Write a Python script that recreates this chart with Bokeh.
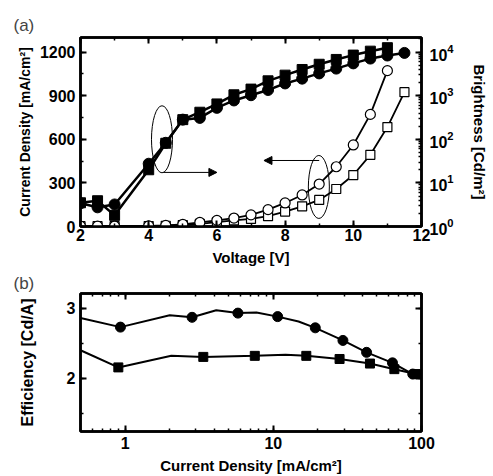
from bokeh.plotting import figure
from bokeh.models import (Range1d, LogScale, LinearAxis, LogAxis, SingleIntervalTicker,
                          Arrow, NormalHead, BasicTickFormatter, LogTicker, CustomJSTickFormatter)
from bokeh.layouts import column
from bokeh.embed import file_html
from bokeh.resources import INLINE

# ---------------- data: panel (a) ----------------
# Brightness (filled markers, right log axis) [Cd/m^2]
v_bsq = [2, 2.5, 3, 4, 4.5, 5, 5.5, 6, 6.5, 7, 7.5, 8, 8.5, 9, 9.5, 10, 10.5, 11]
b_sq = [3.5, 3.9, 1.8, 20, 81, 282, 417, 646, 1047, 1413, 2188, 2951, 3981, 5248, 6761, 8511, 10471, 12589]
v_bci = [2, 2.5, 3, 4, 4.5, 5, 5.5, 6, 6.5, 7, 7.5, 8, 8.5, 9, 9.5, 10, 10.5, 11, 11.5]
b_ci = [3.4, 2.75, 3.2, 27.5, 83, 282, 309, 525, 776, 1023, 1349, 1905, 2455, 3236, 4169, 5495, 7079, 8318, 9550]

# Current density (open markers, left axis) [mA/cm^2]
v_jsq = [2, 2.5, 3, 4, 4.5, 5, 5.5, 6, 6.5, 7, 7.5, 8, 8.5, 9, 9.5, 10, 10.5, 11, 11.5]
j_sq = [2, 2, 2, 3, 5, 10, 18, 30, 42, 52, 71, 103, 139, 183, 258, 354, 493, 684, 924]
v_jci = [2, 2.5, 3, 4, 4.5, 5, 5.5, 6, 6.5, 7, 7.5, 8, 8.5, 9, 9.5, 10, 10.5, 11]
j_ci = [2, 2, 2, 4, 8, 15, 28, 42, 58, 80, 116, 162, 217, 292, 411, 561, 771, 1072]

# annotations (ellipses + arrows) in data coords of left axis
ell_v = [4.39, 8.99]
ell_j = [600, 272]
arr1 = (4.43, 372, 6.0, 372)
arr2 = (9.0, 454, 7.38, 454)

# ---------------- data: panel (b) ----------------
cd_ci = [0.93, 2.83, 5.77, 10.7, 19.2, 29.5, 42.6, 63.7, 87.3]
ef_ci = [2.73, 2.87, 2.93, 2.88, 2.72, 2.54, 2.37, 2.22, 2.06]
cd_ci_curve = [0.5, 0.93, 2.0, 2.83, 4.12, 5.77, 7.7, 10.7, 14.8, 19.2, 29.5, 42.6, 63.7, 87.3, 100]
ef_ci_curve = [2.86, 2.73, 2.90, 2.87, 2.97, 2.93, 2.94, 2.88, 2.81, 2.72, 2.54, 2.37, 2.22, 2.06, 2.06]
cd_sq = [0.90, 3.37, 7.5, 16.7, 28.0, 44.9, 65.6, 91.6]
ef_sq = [2.155, 2.305, 2.32, 2.32, 2.275, 2.21, 2.13, 2.06]
cd_sq_curve = [0.5, 0.90, 2.05, 3.37, 7.5, 12.1, 16.7, 28.0, 44.9, 65.6, 91.6, 100]
ef_sq_curve = [2.40, 2.155, 2.32, 2.305, 2.32, 2.335, 2.32, 2.275, 2.21, 2.13, 2.06, 2.06]

FONT = "Liberation Sans"
J_MAX = 1300


def style_axis(ax, labels=True):
    ax.axis_line_width = 2.5
    ax.axis_line_color = "black"
    ax.major_tick_in = 6
    ax.major_tick_out = 0
    ax.minor_tick_in = 3
    ax.minor_tick_out = 0
    ax.major_tick_line_width = 2
    ax.minor_tick_line_width = 1.5
    ax.major_label_text_font = FONT
    ax.major_label_text_font_style = "bold"
    ax.major_label_text_font_size = "16px"
    ax.major_label_text_color = "black"
    ax.axis_label_text_font = FONT
    ax.axis_label_text_font_style = "bold"
    ax.axis_label_text_font_size = "15px"
    ax.axis_label_text_color = "black"
    if not labels:
        ax.formatter = CustomJSTickFormatter(code="return ''")
        ax.major_label_text_font_size = "1px"
        ax.major_label_standoff = 0


def style_title(p, standoff):
    p.title.text_font = FONT
    p.title.text_font_style = "normal"
    p.title.text_font_size = "17px"
    p.title.align = "left"
    p.title.offset = -67
    p.title.standoff = standoff


# ---------------- panel (a) ----------------
pa = figure(width=490, height=268, output_backend="svg", toolbar_location=None,
            x_range=Range1d(2, 12), y_range=Range1d(0, J_MAX),
            min_border_left=80, min_border_right=57, min_border_top=37, min_border_bottom=40,
            title="(a)")
pa.extra_y_ranges = {"bright": Range1d(1, 10 ** (J_MAX / 300))}
pa.extra_y_scales = {"bright": LogScale()}
pa.grid.visible = False
pa.outline_line_color = "black"
pa.outline_line_width = 2.5
style_title(pa, 6)

pa.xaxis.ticker = SingleIntervalTicker(interval=2, num_minor_ticks=2)
pa.yaxis.ticker = SingleIntervalTicker(interval=300, num_minor_ticks=2)
pa.xaxis.axis_label = "Voltage [V]"
pa.yaxis.axis_label = "Current Density [mA/cm\u00b2]"
for ax in pa.xaxis + pa.yaxis:
    style_axis(ax)
pa.yaxis.axis_label_text_font_size = "14px"
pa.xaxis.axis_label_standoff = 5
pa.yaxis.axis_label_standoff = 4
pa.xaxis.major_label_standoff = 2

top_a = LinearAxis(ticker=SingleIntervalTicker(interval=2, num_minor_ticks=2))
style_axis(top_a, labels=False)
pa.add_layout(top_a, "above")

right_a = LogAxis(y_range_name="bright", axis_label="Brightness [Cd/m\u00b2]",
                  ticker=LogTicker(num_minor_ticks=10))
style_axis(right_a)
right_a.major_label_standoff = 8
right_a.axis_label_standoff = 14
pa.add_layout(right_a, "right")

# filled: brightness
pa.line(v_bsq, b_sq, y_range_name="bright", line_color="black", line_width=2.5)
pa.scatter(v_bsq, b_sq, y_range_name="bright", marker="square", size=10,
           fill_color="black", line_color="black")
pa.line(v_bci, b_ci, y_range_name="bright", line_color="black", line_width=2.5)
pa.scatter(v_bci, b_ci, y_range_name="bright", marker="circle", size=11,
           fill_color="black", line_color="black")

# open: current density
pa.line(v_jsq, j_sq, line_color="black", line_width=1.8)
pa.scatter(v_jsq, j_sq, marker="square", size=9, fill_color="white",
           line_color="black", line_width=1.2)
pa.line(v_jci, j_ci, line_color="black", line_width=1.8)
pa.scatter(v_jci, j_ci, marker="circle", size=10, fill_color="white",
           line_color="black", line_width=1.2)

pa.ellipse(x=ell_v, y=ell_j, width=21, height=[67, 63], width_units="screen",
           height_units="screen", fill_color=None, line_color="black", line_width=1)
for (x0, y0, x1, y1) in (arr1, arr2):
    pa.add_layout(Arrow(x_start=x0, y_start=y0, x_end=x1, y_end=y1,
                        line_color="black", line_width=1,
                        end=NormalHead(size=8, fill_color="black", line_color="black")))

# ---------------- panel (b) ----------------
pb = figure(width=490, height=208, output_backend="svg", toolbar_location=None,
            x_axis_type="log", x_range=Range1d(0.5, 100), y_range=Range1d(1.24, 3.21),
            min_border_left=80, min_border_right=56, min_border_top=25, min_border_bottom=43,
            title="(b)")
pb.grid.visible = False
pb.outline_line_color = "black"
pb.outline_line_width = 2.5
style_title(pb, 2)

pb.xaxis.ticker = LogTicker(num_minor_ticks=10)
pb.yaxis.ticker = SingleIntervalTicker(interval=1, num_minor_ticks=2)
pb.xaxis.axis_label = "Current Density [mA/cm\u00b2]"
pb.yaxis.axis_label = "Efficiency [Cd/A]"
for ax in pb.xaxis + pb.yaxis:
    style_axis(ax)
pb.yaxis.axis_label_text_font_size = "16px"
pb.xaxis.formatter = BasicTickFormatter()
pb.xaxis.axis_label_standoff = 5
pb.yaxis.axis_label_standoff = 28
pb.xaxis.major_label_standoff = 5

top_b = LogAxis(ticker=LogTicker(num_minor_ticks=10))
style_axis(top_b, labels=False)
pb.add_layout(top_b, "above")
right_b = LinearAxis(ticker=SingleIntervalTicker(interval=1, num_minor_ticks=2))
style_axis(right_b, labels=False)
pb.add_layout(right_b, "right")

pb.line(cd_ci_curve, ef_ci_curve, line_color="black", line_width=2)
pb.scatter(cd_ci, ef_ci, marker="circle", size=10, fill_color="black", line_color="black")
pb.line(cd_sq_curve, ef_sq_curve, line_color="black", line_width=2)
pb.scatter(cd_sq, ef_sq, marker="square", size=9, fill_color="black", line_color="black")

layout = column(pa, pb, spacing=0)
open("out.html", "w").write(file_html(layout, INLINE))
